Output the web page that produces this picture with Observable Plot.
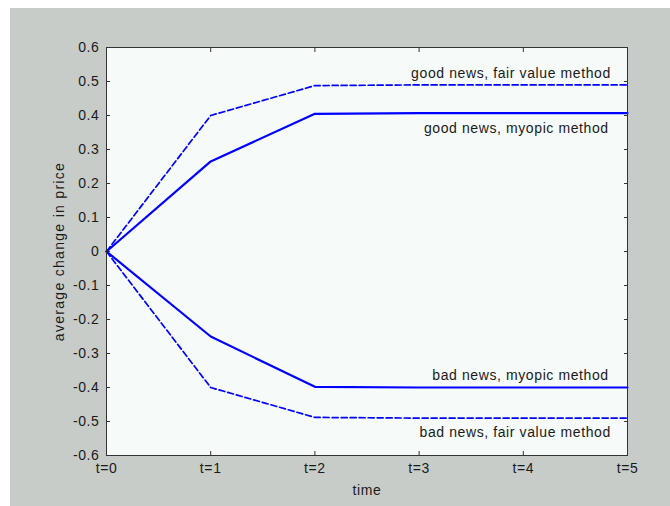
<!DOCTYPE html>
<html><head><meta charset="utf-8">
<script src="https://cdn.jsdelivr.net/npm/d3@7"></script>
<script src="https://cdn.jsdelivr.net/npm/@observablehq/plot@0.6"></script>
<style>
html,body{margin:0;padding:0;background:#ffffff;}
#chart{position:absolute;left:10px;top:8px;}
#chart svg text{letter-spacing:0.6px;}
#chart g[aria-label="y-axis label"] text{letter-spacing:1.3px;}
</style>
</head><body><div id="chart"></div>
<script>
const times = [0, 1, 2, 3, 4, 5];
const timeLabels = ["t=0", "t=1", "t=2", "t=3", "t=4", "t=5"];
const yTicks = [-0.6, -0.5, -0.4, -0.3, -0.2, -0.1, 0, 0.1, 0.2, 0.3, 0.4, 0.5, 0.6];
const goodFair = [0, 0.40, 0.488, 0.49, 0.49, 0.49];
const goodMyopic = [0, 0.265, 0.405, 0.407, 0.407, 0.407];
const badMyopic = [0, -0.25, -0.398, -0.40, -0.40, -0.40];
const badFair = [0, -0.40, -0.488, -0.49, -0.49, -0.49];
const seriesNames = ["good news, fair value method", "good news, myopic method", "bad news, myopic method", "bad news, fair value method"];

const seriesValues = [goodFair, goodMyopic, badMyopic, badFair];
const dashedFlags = [true, false, false, true];
const rows = seriesNames.flatMap((name, s) => times.map((t, i) => ({t, v: seriesValues[s][i], name, dashed: dashedFlags[s]})));

// label anchor points (in data units)
const annotations = [
  {label: seriesNames[0], x: 4.84, y: 0.523},
  {label: seriesNames[1], x: 4.82, y: 0.361},
  {label: seriesNames[2], x: 4.82, y: -0.365},
  {label: seriesNames[3], x: 4.84, y: -0.532}
];

const fmtY = d => d === 0 ? "0" : d.toFixed(1);
const fmtX = d => timeLabels[times.indexOf(d)];
const ink = "#1a1a1a";
const blank = () => "";

const chart = Plot.plot({
  width: 660, height: 498,
  marginLeft: 96, marginRight: 43, marginTop: 39, marginBottom: 51,
  x: {domain: [0, 5]},
  y: {domain: [-0.6, 0.6]},
  style: {background: "#c8ccc8", fontFamily: "'Liberation Sans', Arial, sans-serif", fontSize: "14px", color: ink},
  marks: [
    Plot.frame({fill: "#f6faf8", stroke: null}),
    // tick labels
    Plot.axisY(yTicks, {anchor: "left", tickSize: 0, tickPadding: 7, tickFormat: fmtY, fontSize: 14, label: "average change in price", labelAnchor: "center", labelOffset: 52, labelArrow: "none"}),
    Plot.axisX(times, {anchor: "bottom", tickSize: 0, tickPadding: 8, tickFormat: fmtX, fontSize: 14, label: "time", labelAnchor: "center", labelOffset: 39, labelArrow: "none"}),
    // inward ticks on all sides
    Plot.axisY(yTicks, {anchor: "left", tickSize: 4, dx: 4, tickFormat: blank, label: null, stroke: "#333"}),
    Plot.axisY(yTicks, {anchor: "right", tickSize: 4, dx: -4, tickFormat: blank, label: null, stroke: "#333"}),
    Plot.axisX(times, {anchor: "bottom", tickSize: 4, dy: -4, tickFormat: blank, label: null, stroke: "#333"}),
    Plot.axisX(times, {anchor: "top", tickSize: 4, dy: 4, tickFormat: blank, label: null, stroke: "#333"}),
    Plot.line(rows.filter(d => d.dashed), {x: "t", y: "v", z: "name", stroke: "#0000ff", strokeWidth: 1.7, strokeDasharray: "6,3"}),
    Plot.line(rows.filter(d => !d.dashed), {x: "t", y: "v", z: "name", stroke: "#0000ff", strokeWidth: 2.2}),
    Plot.text(annotations, {x: "x", y: "y", text: "label", textAnchor: "end", fill: ink, fontSize: 14}),
    Plot.frame({stroke: "#333", strokeWidth: 1})
  ]
});
document.getElementById("chart").appendChild(chart);
</script>
</body></html>
